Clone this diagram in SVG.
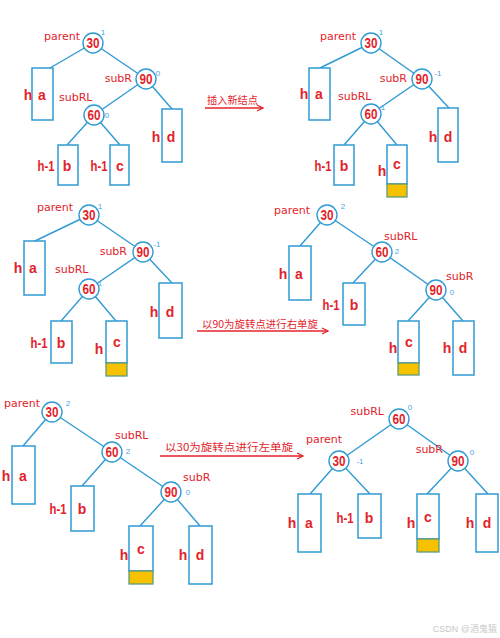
<svg xmlns="http://www.w3.org/2000/svg" width="500" height="638" viewBox="0 0 500 638">
<defs>
<style>
.e{stroke:#2f9ad3;stroke-width:1.4;fill:none}
.c{fill:#fff;stroke:#2f9ad3;stroke-width:1.4}
.b{fill:#fff;stroke:#2f9ad3;stroke-width:1.5}
.y{fill:#f6c200;stroke:#5f9b7a;stroke-width:1.3}
.n{font-family:"Liberation Sans",Arial,sans-serif;font-weight:bold;font-size:14px;fill:#e3232b;text-anchor:middle}
.l{font-family:"Liberation Sans",Arial,sans-serif;font-weight:bold;font-size:14px;fill:#e3232b;text-anchor:middle}
.t{font-family:"DejaVu Sans","Liberation Sans",sans-serif;font-size:11px;fill:#e3232b;text-anchor:end}
.t2{font-family:"DejaVu Sans","Liberation Sans",sans-serif;font-size:11px;fill:#e3232b}
.f{font-family:"Liberation Sans",sans-serif;font-size:8px;fill:#4aa3df;text-anchor:middle}
.z{font-family:"Noto Sans CJK SC","Noto Sans CJK TC",sans-serif;font-size:10px;fill:#e3232b}
.a{stroke:#e3232b;stroke-width:1.3;fill:none}
</style>
<marker id="ah" markerWidth="8" markerHeight="8" refX="7" refY="4" orient="auto" markerUnits="userSpaceOnUse">
<path d="M1,1 L7,4 L1,7" fill="none" stroke="#e3232b" stroke-width="1.2"/>
</marker>
</defs>
<rect width="500" height="638" fill="#fff"/>

<g id="connectors">
<line class="e" x1="93" y1="43" x2="50" y2="68"/>
<line class="e" x1="93" y1="43" x2="146" y2="79"/>
<line class="e" x1="146" y1="79" x2="94" y2="115"/>
<line class="e" x1="146" y1="79" x2="172" y2="109"/>
<line class="e" x1="94" y1="115" x2="67" y2="145"/>
<line class="e" x1="94" y1="115" x2="120" y2="145"/>
<line class="e" x1="371" y1="43" x2="320" y2="68"/>
<line class="e" x1="371" y1="43" x2="422" y2="79"/>
<line class="e" x1="422" y1="79" x2="371" y2="114"/>
<line class="e" x1="422" y1="79" x2="449" y2="108"/>
<line class="e" x1="371" y1="114" x2="344" y2="145"/>
<line class="e" x1="371" y1="114" x2="397" y2="145"/>
<line class="e" x1="89" y1="215" x2="35" y2="241"/>
<line class="e" x1="89" y1="215" x2="143" y2="252"/>
<line class="e" x1="143" y1="252" x2="89" y2="289"/>
<line class="e" x1="143" y1="252" x2="172" y2="283"/>
<line class="e" x1="89" y1="289" x2="61" y2="321"/>
<line class="e" x1="89" y1="289" x2="116" y2="321"/>
<line class="e" x1="327" y1="215" x2="300" y2="246"/>
<line class="e" x1="327" y1="215" x2="382" y2="252"/>
<line class="e" x1="382" y1="252" x2="353" y2="283"/>
<line class="e" x1="382" y1="252" x2="436" y2="290"/>
<line class="e" x1="436" y1="290" x2="408" y2="321"/>
<line class="e" x1="436" y1="290" x2="463" y2="321"/>
<line class="e" x1="52" y1="412" x2="23" y2="446"/>
<line class="e" x1="52" y1="412" x2="112" y2="452"/>
<line class="e" x1="112" y1="452" x2="82" y2="486"/>
<line class="e" x1="112" y1="452" x2="171" y2="492"/>
<line class="e" x1="171" y1="492" x2="140" y2="526"/>
<line class="e" x1="171" y1="492" x2="200" y2="526"/>
<line class="e" x1="399" y1="419" x2="339" y2="461"/>
<line class="e" x1="399" y1="419" x2="458" y2="461"/>
<line class="e" x1="339" y1="461" x2="310" y2="494"/>
<line class="e" x1="339" y1="461" x2="370" y2="494"/>
<line class="e" x1="458" y1="461" x2="427" y2="494"/>
<line class="e" x1="458" y1="461" x2="488" y2="494"/>
<line class="a" x1="205" y1="108" x2="263" y2="108" marker-end="url(#ah)"/>
<line class="a" x1="197" y1="331" x2="328" y2="331" marker-end="url(#ah)"/>
<line class="a" x1="160" y1="456" x2="303" y2="456" marker-end="url(#ah)"/>
</g>

<g id="arrow-labels">
<text class="z" x="207" y="104" textLength="51" lengthAdjust="spacingAndGlyphs">插入新结点</text>
<text class="z" x="202" y="328" textLength="116" lengthAdjust="spacingAndGlyphs">以90为旋转点进行右单旋</text>
<text class="z" x="165" y="451" textLength="128" lengthAdjust="spacingAndGlyphs">以30为旋转点进行左单旋</text>
</g>

<g id="t1-n30"><circle class="c" cx="93" cy="43" r="10"/><text class="n" x="93" y="48" textLength="13" lengthAdjust="spacingAndGlyphs">30</text><text class="t" x="80" y="40">parent</text><text class="f" x="103" y="35">1</text></g>
<g id="t1-n90"><circle class="c" cx="146" cy="79" r="10"/><text class="n" x="146" y="84" textLength="13" lengthAdjust="spacingAndGlyphs">90</text><text class="t" x="132" y="82">subR</text><text class="f" x="158" y="76">0</text></g>
<g id="t1-n60"><circle class="c" cx="94" cy="115" r="10"/><text class="n" x="94" y="120" textLength="13" lengthAdjust="spacingAndGlyphs">60</text><text class="t2" x="59" y="101">subRL</text><text class="f" x="107" y="118">0</text></g>
<g id="t1-a"><rect class="b" x="32" y="68" width="21" height="52"/><text class="l" x="28" y="100">h</text><text class="l" x="42" y="100">a</text></g>
<g id="t1-b"><rect class="b" x="58" y="145" width="20" height="40"/><text class="l" x="46" y="171" textLength="17" lengthAdjust="spacingAndGlyphs">h-1</text><text class="l" x="67" y="171">b</text></g>
<g id="t1-c"><rect class="b" x="110" y="145" width="19" height="40"/><text class="l" x="99" y="171" textLength="17" lengthAdjust="spacingAndGlyphs">h-1</text><text class="l" x="120" y="171">c</text></g>
<g id="t1-d"><rect class="b" x="162" y="109" width="20" height="53"/><text class="l" x="156" y="142">h</text><text class="l" x="171" y="142">d</text></g>

<g id="t2-n30"><circle class="c" cx="371" cy="43" r="10"/><text class="n" x="371" y="48" textLength="13" lengthAdjust="spacingAndGlyphs">30</text><text class="t" x="356" y="40">parent</text><text class="f" x="381" y="35">1</text></g>
<g id="t2-n90"><circle class="c" cx="422" cy="79" r="10"/><text class="n" x="422" y="84" textLength="13" lengthAdjust="spacingAndGlyphs">90</text><text class="t" x="407" y="82">subR</text><text class="f" x="438" y="76">-1</text></g>
<g id="t2-n60"><circle class="c" cx="371" cy="114" r="10"/><text class="n" x="371" y="119" textLength="13" lengthAdjust="spacingAndGlyphs">60</text><text class="t2" x="338" y="100">subRL</text><text class="f" x="383" y="110">1</text></g>
<g id="t2-a"><rect class="b" x="309" y="68" width="21" height="52"/><text class="l" x="304" y="99">h</text><text class="l" x="319" y="99">a</text></g>
<g id="t2-b"><rect class="b" x="334" y="145" width="20" height="40"/><text class="l" x="323" y="171" textLength="17" lengthAdjust="spacingAndGlyphs">h-1</text><text class="l" x="344" y="171">b</text></g>
<g id="t2-c"><rect class="b" x="387" y="145" width="20" height="39"/><rect class="y" x="387" y="184" width="20" height="13"/><text class="l" x="382" y="176">h</text><text class="l" x="397" y="169">c</text></g>
<g id="t2-d"><rect class="b" x="438" y="108" width="20" height="54"/><text class="l" x="433" y="142">h</text><text class="l" x="448" y="142">d</text></g>

<g id="t3-n30"><circle class="c" cx="89" cy="215" r="10"/><text class="n" x="89" y="220" textLength="13" lengthAdjust="spacingAndGlyphs">30</text><text class="t" x="73" y="211">parent</text><text class="f" x="100" y="209">1</text></g>
<g id="t3-n90"><circle class="c" cx="143" cy="252" r="10"/><text class="n" x="143" y="257" textLength="13" lengthAdjust="spacingAndGlyphs">90</text><text class="t" x="127" y="255">subR</text><text class="f" x="157" y="247">-1</text></g>
<g id="t3-n60"><circle class="c" cx="89" cy="289" r="10"/><text class="n" x="89" y="294" textLength="13" lengthAdjust="spacingAndGlyphs">60</text><text class="t2" x="55" y="273">subRL</text><text class="f" x="100" y="286">1</text></g>
<g id="t3-a"><rect class="b" x="24" y="241" width="21" height="54"/><text class="l" x="18" y="273">h</text><text class="l" x="33" y="273">a</text></g>
<g id="t3-b"><rect class="b" x="51" y="321" width="21" height="42"/><text class="l" x="39" y="348" textLength="17" lengthAdjust="spacingAndGlyphs">h-1</text><text class="l" x="61" y="348">b</text></g>
<g id="t3-c"><rect class="b" x="106" y="321" width="21" height="42"/><rect class="y" x="106" y="363" width="21" height="13"/><text class="l" x="99" y="354">h</text><text class="l" x="117" y="347">c</text></g>
<g id="t3-d"><rect class="b" x="159" y="283" width="23" height="55"/><text class="l" x="154" y="317">h</text><text class="l" x="170" y="317">d</text></g>

<g id="t4-n30"><circle class="c" cx="327" cy="215" r="10"/><text class="n" x="327" y="220" textLength="13" lengthAdjust="spacingAndGlyphs">30</text><text class="t" x="310" y="214">parent</text><text class="f" x="343" y="209">2</text></g>
<g id="t4-n60"><circle class="c" cx="382" cy="252" r="10"/><text class="n" x="382" y="257" textLength="13" lengthAdjust="spacingAndGlyphs">60</text><text class="t2" x="384" y="240">subRL</text><text class="f" x="397" y="254">2</text></g>
<g id="t4-n90"><circle class="c" cx="436" cy="290" r="10"/><text class="n" x="436" y="295" textLength="13" lengthAdjust="spacingAndGlyphs">90</text><text class="t2" x="446" y="280">subR</text><text class="f" x="452" y="295">0</text></g>
<g id="t4-a"><rect class="b" x="289" y="246" width="22" height="54"/><text class="l" x="283" y="279">h</text><text class="l" x="299" y="279">a</text></g>
<g id="t4-b"><rect class="b" x="343" y="283" width="22" height="42"/><text class="l" x="331" y="310" textLength="17" lengthAdjust="spacingAndGlyphs">h-1</text><text class="l" x="354" y="310">b</text></g>
<g id="t4-c"><rect class="b" x="398" y="321" width="21" height="42"/><rect class="y" x="398" y="363" width="21" height="12"/><text class="l" x="393" y="353">h</text><text class="l" x="409" y="347">c</text></g>
<g id="t4-d"><rect class="b" x="453" y="321" width="21" height="54"/><text class="l" x="447" y="353">h</text><text class="l" x="463" y="353">d</text></g>

<g id="t5-n30"><circle class="c" cx="52" cy="412" r="10"/><text class="n" x="52" y="417" textLength="13" lengthAdjust="spacingAndGlyphs">30</text><text class="t" x="40" y="407">parent</text><text class="f" x="68" y="406">2</text></g>
<g id="t5-n60"><circle class="c" cx="112" cy="452" r="10"/><text class="n" x="112" y="457" textLength="13" lengthAdjust="spacingAndGlyphs">60</text><text class="t2" x="115" y="439">subRL</text><text class="f" x="128" y="454">2</text></g>
<g id="t5-n90"><circle class="c" cx="171" cy="492" r="10"/><text class="n" x="171" y="497" textLength="13" lengthAdjust="spacingAndGlyphs">90</text><text class="t2" x="183" y="481">subR</text><text class="f" x="188" y="495">0</text></g>
<g id="t5-a"><rect class="b" x="12" y="446" width="23" height="58"/><text class="l" x="6" y="481">h</text><text class="l" x="23" y="481">a</text></g>
<g id="t5-b"><rect class="b" x="71" y="486" width="23" height="45"/><text class="l" x="58" y="514" textLength="17" lengthAdjust="spacingAndGlyphs">h-1</text><text class="l" x="82" y="514">b</text></g>
<g id="t5-c"><rect class="b" x="129" y="526" width="24" height="45"/><rect class="y" x="129" y="571" width="24" height="13"/><text class="l" x="124" y="560">h</text><text class="l" x="141" y="554">c</text></g>
<g id="t5-d"><rect class="b" x="189" y="526" width="23" height="58"/><text class="l" x="183" y="560">h</text><text class="l" x="200" y="560">d</text></g>

<g id="t6-n60"><circle class="c" cx="399" cy="419" r="10"/><text class="n" x="399" y="424" textLength="13" lengthAdjust="spacingAndGlyphs">60</text><text class="t" x="384" y="415">subRL</text><text class="f" x="410" y="410">0</text></g>
<g id="t6-n30"><circle class="c" cx="339" cy="461" r="10"/><text class="n" x="339" y="466" textLength="13" lengthAdjust="spacingAndGlyphs">30</text><text class="t" x="342" y="443">parent</text><text class="f" x="360" y="464">-1</text></g>
<g id="t6-n90"><circle class="c" cx="458" cy="461" r="10"/><text class="n" x="458" y="466" textLength="13" lengthAdjust="spacingAndGlyphs">90</text><text class="t" x="443" y="453">subR</text><text class="f" x="472" y="455">0</text></g>
<g id="t6-a"><rect class="b" x="298" y="494" width="23" height="58"/><text class="l" x="292" y="528">h</text><text class="l" x="309" y="528">a</text></g>
<g id="t6-b"><rect class="b" x="358" y="494" width="23" height="44"/><text class="l" x="345" y="523" textLength="17" lengthAdjust="spacingAndGlyphs">h-1</text><text class="l" x="369" y="523">b</text></g>
<g id="t6-c"><rect class="b" x="417" y="494" width="22" height="45"/><rect class="y" x="417" y="539" width="22" height="13"/><text class="l" x="411" y="528">h</text><text class="l" x="428" y="522">c</text></g>
<g id="t6-d"><rect class="b" x="476" y="494" width="22" height="58"/><text class="l" x="470" y="528">h</text><text class="l" x="487" y="528">d</text></g>

<text x="497" y="632" text-anchor="end" font-family="'Liberation Sans','Noto Sans CJK SC',sans-serif" font-size="9" fill="#c8c8c8">CSDN @酒鬼猿</text>
</svg>
